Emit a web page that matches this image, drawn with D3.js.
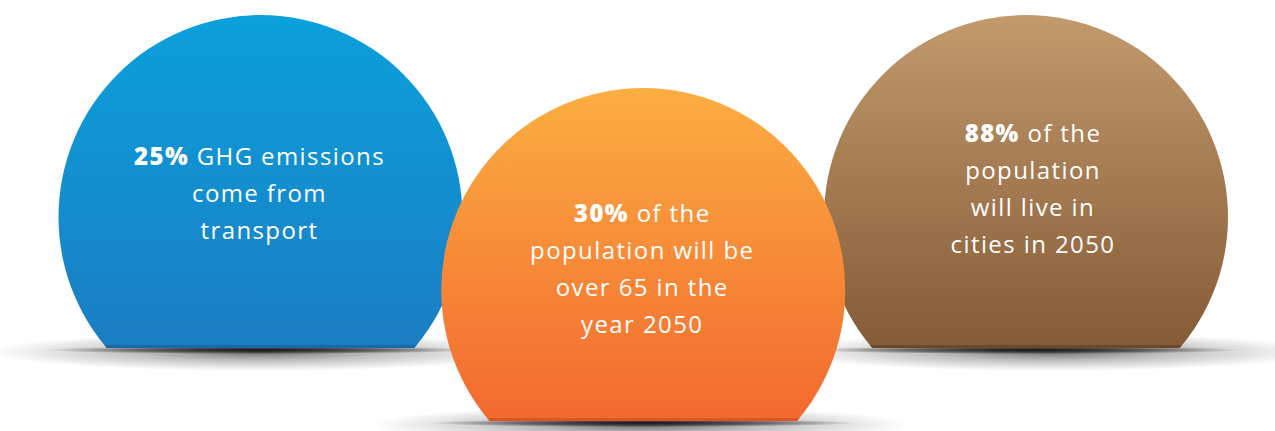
<!DOCTYPE html>
<html>
<head>
<meta charset="utf-8">
<script src="https://cdn.jsdelivr.net/npm/d3@7"></script>
<style>
  html, body { margin: 0; padding: 0; background: #ffffff; }
  svg { display: block; }
  text { font-family: "Open Sans", "DejaVu Sans", sans-serif; fill: #ffffff; letter-spacing: 1.4px; }
</style>
</head>
<body>
<svg id="chart" width="1275" height="431"></svg>
<script>
// ---- data ----
const categories = ["transport", "ageing", "urban"];
const highlights = ["25%", "30%", "88%"];
const firstLineRest = [" GHG emissions", " of the", " of the"];
const otherLines = [
  ["come from", "transport"],
  ["population will be", "over 65 in the", "year 2050"],
  ["population", "will live in", "cities in 2050"]
];
const topColors = ["#0ba0dc", "#fbae42", "#c29a6c"];
const bottomColors = ["#1e76bd", "#f15a2a", "#784d2a"];
const edgeColors = ["#175a93", "#c9451f", "#5a391f"];
const lowered = [false, true, false];

// ---- layout ----
const W = 1275, H = 431;
const R = 202;
const svg = d3.select("#chart");
const defs = svg.append("defs");

const x = d3.scalePoint().domain(categories).range([260.5, 1026]);
const y = d3.scaleOrdinal().domain([false, true]).range([217, 290]);
const cut = 131; // distance from centre to flat bottom
const halfChord = Math.sqrt(R * R - cut * cut);

const items = categories.map((c, i) => ({
  key: c, i,
  cx: x(c), cy: y(lowered[i]),
  pct: highlights[i], rest: firstLineRest[i], lines: otherLines[i]
}));

// gradients
items.forEach(d => {
  const g = defs.append("linearGradient")
    .attr("id", "grad" + d.i).attr("x1", 0).attr("y1", 0).attr("x2", 0).attr("y2", 1);
  g.append("stop").attr("offset", "0%").attr("stop-color", topColors[d.i]);
  g.append("stop").attr("offset", "100%").attr("stop-color", bottomColors[d.i]);
  defs.append("clipPath").attr("id", "clip" + d.i)
    .append("rect")
    .attr("x", d.cx - R - 2).attr("y", d.cy - R - 2)
    .attr("width", 2 * R + 4).attr("height", R + cut + 2);
  defs.append("clipPath").attr("id", "circ" + d.i)
    .append("circle").attr("cx", d.cx).attr("cy", d.cy).attr("r", R);
});

const sh = defs.append("radialGradient").attr("id", "shadowOuter");
sh.append("stop").attr("offset", "0%").attr("stop-color", "#000").attr("stop-opacity", 0.55);
sh.append("stop").attr("offset", "45%").attr("stop-color", "#000").attr("stop-opacity", 0.25);
sh.append("stop").attr("offset", "100%").attr("stop-color", "#000").attr("stop-opacity", 0);
const shi = defs.append("radialGradient").attr("id", "shadowInner");
shi.append("stop").attr("offset", "0%").attr("stop-color", "#000").attr("stop-opacity", 0.85);
shi.append("stop").attr("offset", "60%").attr("stop-color", "#000").attr("stop-opacity", 0.45);
shi.append("stop").attr("offset", "100%").attr("stop-color", "#000").attr("stop-opacity", 0);

// draw order: side circles first, then the lowered middle one on top
const order = items.slice().sort((a, b) => (lowered[a.i] ? 1 : 0) - (lowered[b.i] ? 1 : 0));

const groups = svg.selectAll("g.bubble").data(order).join("g").attr("class", "bubble");

groups.each(function(d) {
  const g = d3.select(this);
  const by = d.cy + cut;
  // shadow
  g.append("ellipse")
    .attr("cx", d.cx - 2 + (d.i === 2 ? 25 : 0)).attr("cy", by + 4)
    .attr("rx", 268).attr("ry", 19)
    .attr("fill", "url(#shadowOuter)");
  g.append("ellipse")
    .attr("cx", d.cx).attr("cy", by + 2)
    .attr("rx", 215).attr("ry", 4)
    .attr("fill", "url(#shadowInner)");
  // shape
  const shape = g.append("g").attr("clip-path", `url(#clip${d.i})`);
  shape.append("circle")
    .attr("cx", d.cx).attr("cy", d.cy).attr("r", R)
    .attr("fill", `url(#grad${d.i})`);
  // darker edge at the flat bottom
  shape.append("g").attr("clip-path", `url(#circ${d.i})`)
    .append("rect")
    .attr("x", d.cx - halfChord - 3).attr("y", by - 3)
    .attr("width", 2 * halfChord + 6).attr("height", 3)
    .attr("fill", edgeColors[d.i]).attr("opacity", 0.55);

  // text
  const lh = 37;
  const t0 = d.i === 0 ? d.cy - 52 : (d.i === 1 ? d.cy - 68 : d.cy - 75);
  const tx = d.cx + (d.i === 2 ? 7 : -1);
  const t = g.append("text").attr("text-anchor", "middle").attr("font-size", 24);
  const l1 = t.append("tspan").attr("x", tx).attr("y", t0);
  l1.append("tspan").attr("font-weight", 800).text(d.pct);
  l1.append("tspan").attr("font-weight", 400).text(d.rest);
  d.lines.forEach((ln, k) => {
    t.append("tspan").attr("x", tx).attr("y", t0 + lh * (k + 1)).text(ln);
  });
});
</script>
</body>
</html>
